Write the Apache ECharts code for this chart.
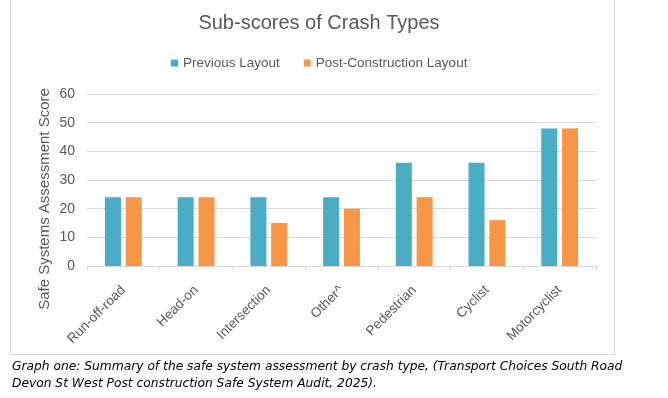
<!DOCTYPE html>
<html>
<head>
<meta charset="utf-8">
<script src="https://cdn.jsdelivr.net/npm/echarts@6/dist/echarts.min.js"></script>
<style>
  body { margin: 0; background: #fff; }
  #frame {
    position: absolute; left: 10px; top: -1px;
    width: 603px; height: 354px;
    border: 1px solid #d9d9d9;
  }
  #chart { position: absolute; left: 0; top: 0; width: 668px; height: 398px; }
  #caption {
    position: absolute; left: 12px; top: 358px;
    font-family: 'DejaVu Sans', sans-serif; font-style: italic;
    font-size: 12.25px; line-height: 17px; color: #000;
  }
</style>
</head>
<body>
<div id="frame"></div>
<div id="chart"></div>
<div id="caption">Graph one: Summary of the safe system assessment by crash type, (Transport Choices South Road<br>Devon St West Post construction Safe System Audit, 2025).</div>
<script>
// crash type categories
const crashTypes = ['Run-off-road', 'Head-on', 'Intersection', 'Other^', 'Pedestrian', 'Cyclist', 'Motorcyclist']
// scores
const previousLayout = [24, 24, 24, 24, 36, 36, 48]
const postConstruction = [24, 24, 15, 20, 24, 16, 48]

const textColor = '#595959'
const fontFamily = "'Liberation Sans', sans-serif"

const chart = echarts.init(document.getElementById('chart'))

const makeSeries = (name, color, data) => ({
  name,
  type: 'bar',
  data,
  barWidth: 16,
  barGap: '30%',
  itemStyle: { color },
  emphasis: { disabled: true }
})

chart.setOption({
  animation: false,
  textStyle: { fontFamily },
  title: {
    text: 'Sub-scores of Crash Types',
    left: 314,
    textAlign: 'center',
    top: 8,
    textStyle: { fontSize: 20, fontWeight: 'normal', color: textColor, fontFamily }
  },
  legend: {
    top: 51,
    left: 166,
    itemWidth: 7,
    itemHeight: 7,
    itemGap: 24,
    icon: 'rect',
    textStyle: { fontSize: 13.5, color: textColor, fontFamily }
  },
  grid: { left: 87, right: 72, top: 94, bottom: 132 },
  xAxis: {
    type: 'category',
    data: crashTypes,
    axisLine: { lineStyle: { color: '#d9d9d9' } },
    axisTick: { show: true, length: 4, lineStyle: { color: '#d9d9d9' } },
    axisLabel: { rotate: 45, color: textColor, fontSize: 13.5, margin: 22, interval: 0 }
  },
  yAxis: {
    type: 'value',
    min: 0,
    max: 60,
    interval: 10,
    axisLine: { show: false },
    axisTick: { show: false },
    axisLabel: { color: textColor, fontSize: 14, margin: 12 },
    splitLine: { lineStyle: { color: '#d9d9d9' } }
  },
  graphic: [{
    type: 'text',
    x: 45,
    y: 199,
    rotation: Math.PI / 2,
    style: {
      text: 'Safe Systems Assessment Score',
      fill: textColor,
      font: '15px ' + fontFamily,
      textAlign: 'center',
      textVerticalAlign: 'middle'
    }
  }],
  series: [
    makeSeries('Previous Layout', '#4bacc6', previousLayout),
    makeSeries('Post-Construction Layout', '#f79646', postConstruction)
  ]
})
</script>
</body>
</html>
